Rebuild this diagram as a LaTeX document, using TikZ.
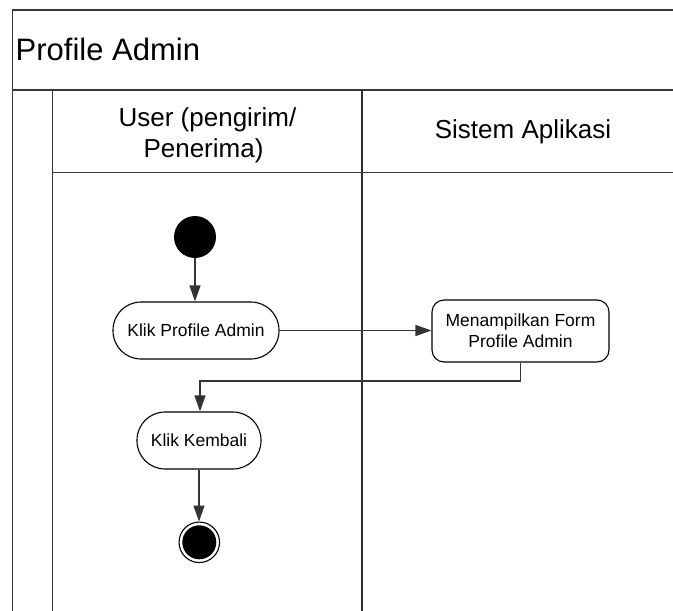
\documentclass[tikz,border=0pt]{standalone}
\usepackage{fontspec}
\setmainfont{Liberation Sans}
\usetikzlibrary{arrows.meta}

\tikzset{
  frameline/.style={line width=1.6pt, draw=black!78},
  laneline/.style={line width=1.8pt, draw=black!82},
  action/.style={draw=black, line width=1.1pt, fill=white, rectangle,
    inner sep=0pt, align=center, font=\fontsize{17.5}{21}\selectfont},
  flow/.style={line width=1.2pt, draw=black!80,
    -{Triangle[length=16pt,width=11pt]}},
  headtext/.style={inner sep=0pt, anchor=base, font=\fontsize{26}{31}\selectfont},
}

\begin{document}
\begin{tikzpicture}[x=1pt,y=-1pt]
  \useasboundingbox (0,0) rectangle (673,611);

  % swimlane frame
  \draw[frameline] (12.5,611) -- (12.5,10) -- (673,10);
  \draw[frameline] (12.5,90) -- (673,90);
  \draw[frameline] (52.5,90) -- (52.5,611);
  \draw[laneline] (362,90) -- (362,611);
  \draw[frameline] (52.5,172.5) -- (673,172.5);

  % titles
  \node[inner sep=0pt, anchor=base west, font=\fontsize{31}{36}\selectfont]
    (title) at (15.5,60) {Profile Admin};
  \node[headtext] (userA) at (207.5,126.3) {User (pengirim/};
  \node[headtext] (userB) at (203.5,157.6) {Penerima)};
  \node[headtext] (sys) at (523,138.3) {Sistem Aplikasi};

  % activity nodes
  \node[circle, fill=black, minimum size=42pt, inner sep=0pt] (start) at (195,237) {};
  \node[action, minimum width=166pt, minimum height=57pt, rounded corners=28pt]
    (klikprofile) at (196,330.5) {Klik Profile Admin};
  \node[action, minimum width=177pt, minimum height=62pt, rounded corners=12pt]
    (tampil) at (520.5,331) {Menampilkan Form\\Profile Admin};
  \node[action, minimum width=124pt, minimum height=57pt, rounded corners=28pt]
    (kembali) at (199,440.5) {Klik Kembali};
  \node[circle, draw=black, line width=1.1pt, fill=white, minimum size=40.5pt,
    inner sep=0pt] (end) at (199.3,542.3) {};
  \fill[black] (end.center) circle (17pt);

  % control flow
  \draw[flow] (start.south) -- (start.south |- klikprofile.north);
  \draw[flow] (klikprofile.east) -- (tampil.west |- klikprofile.east);
  \draw[flow] (tampil.south) -- ++(0,18.5) -| (kembali.north -| 200,0);
  \draw[flow] (kembali.south) -- (kembali.south |- end.north);
\end{tikzpicture}
\end{document}
